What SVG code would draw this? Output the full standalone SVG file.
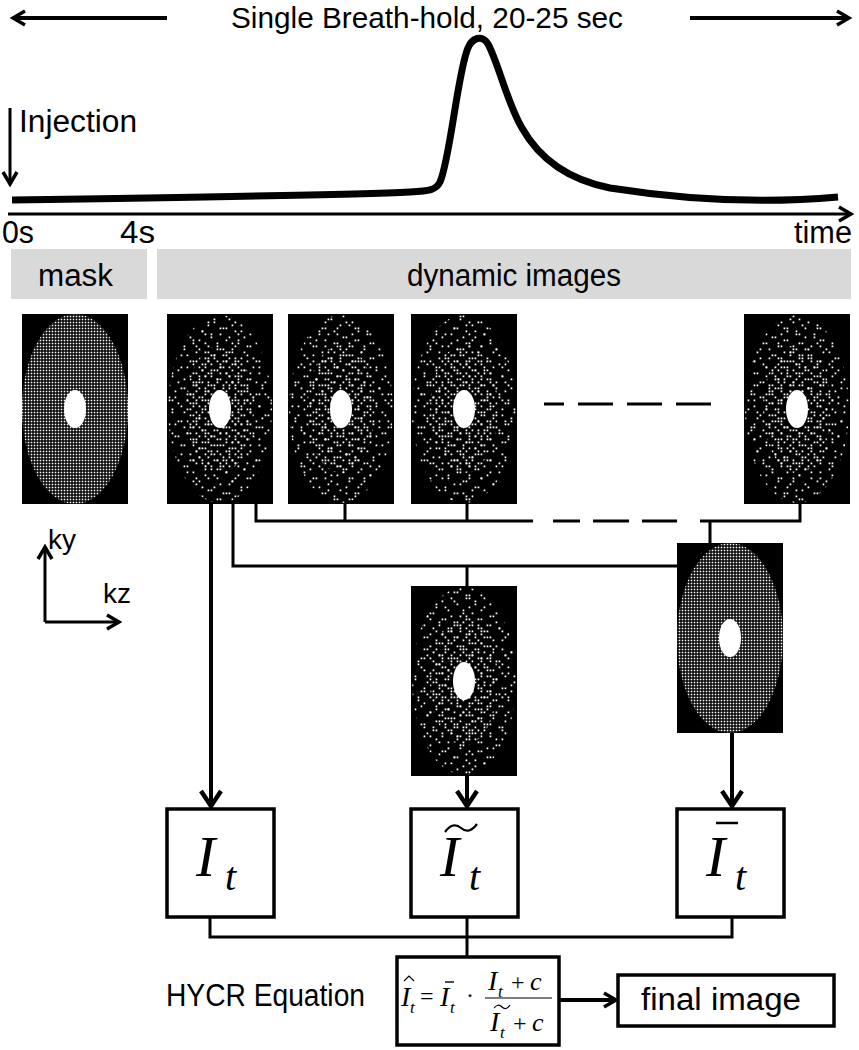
<svg xmlns="http://www.w3.org/2000/svg" width="859" height="1050" viewBox="0 0 859 1050">
<style>
.t{font-family:"Liberation Sans",Arial,sans-serif;fill:#000}
.m{font-family:"Liberation Serif","Times New Roman",serif;font-style:italic;fill:#000}
.r{font-family:"Liberation Serif","Times New Roman",serif;fill:#000}
.ln{stroke:#000;stroke-width:3;fill:none}
.th{stroke:#000;stroke-width:4;fill:none}
.box{fill:#fff;stroke:#000;stroke-width:3.5}
.kb{fill:#000}
.hole{fill:#fff}
.gray{fill:#d9d9d9}
</style>
<defs>
<marker id="ah" markerUnits="userSpaceOnUse" viewBox="0 0 20 20" markerWidth="20" markerHeight="20" refX="16" refY="10" orient="auto">
<path d="M5 3L17 10L5 17" fill="none" stroke="#000" stroke-width="3.5"/>
</marker>
<marker id="ahb" markerUnits="userSpaceOnUse" viewBox="0 0 26 26" markerWidth="26" markerHeight="26" refX="21" refY="13" orient="auto">
<path d="M7 3L22 13L7 23" fill="none" stroke="#000" stroke-width="4.5"/>
</marker>
<pattern id="gp" patternUnits="userSpaceOnUse" width="3" height="3">
<rect x="0.7" y="0.7" width="1.6" height="1.6" fill="#fff"/>
</pattern>
<pattern id="spa" patternUnits="userSpaceOnUse" width="33" height="33">
<path fill="#fff" d="M3.6 0.6h1.7v1.7h-1.7zM21.6 3.6h1.7v1.7h-1.7zM12.6 6.6h1.7v1.7h-1.7zM27.6 9.6h1.7v1.7h-1.7zM6.6 12.6h1.7v1.7h-1.7zM18.6 15.6h1.7v1.7h-1.7zM0.6 18.6h1.7v1.7h-1.7zM30.6 21.6h1.7v1.7h-1.7zM15.6 24.6h1.7v1.7h-1.7zM9.6 27.6h1.7v1.7h-1.7zM24.6 30.6h1.7v1.7h-1.7zM27.6 30.6h1.7v1.7h-1.7zM6.6 3.6h1.7v1.7h-1.7z"/>
</pattern>
<pattern id="spb" patternUnits="userSpaceOnUse" width="39" height="39">
<path fill="#fff" d="M9.6 0.6h1.7v1.7h-1.7zM30.6 3.6h1.7v1.7h-1.7zM18.6 6.6h1.7v1.7h-1.7zM0.6 9.6h1.7v1.7h-1.7zM36.6 12.6h1.7v1.7h-1.7zM24.6 15.6h1.7v1.7h-1.7zM6.6 18.6h1.7v1.7h-1.7zM15.6 21.6h1.7v1.7h-1.7zM33.6 24.6h1.7v1.7h-1.7zM3.6 27.6h1.7v1.7h-1.7zM21.6 30.6h1.7v1.7h-1.7zM12.6 33.6h1.7v1.7h-1.7zM27.6 36.6h1.7v1.7h-1.7zM36.6 30.6h1.7v1.7h-1.7zM0.6 33.6h1.7v1.7h-1.7zM12.6 9.6h1.7v1.7h-1.7z"/>
</pattern>
<pattern id="sp1" patternUnits="userSpaceOnUse" width="30" height="30">
<path fill="#fff" d="M0.6 0.6h1.7v1.7h-1.7zM9.6 0.6h1.7v1.7h-1.7zM21.6 0.6h1.7v1.7h-1.7zM15.6 3.6h1.7v1.7h-1.7zM18.6 3.6h1.7v1.7h-1.7zM3.6 6.6h1.7v1.7h-1.7zM6.6 6.6h1.7v1.7h-1.7zM24.6 6.6h1.7v1.7h-1.7zM12.6 9.6h1.7v1.7h-1.7zM27.6 9.6h1.7v1.7h-1.7zM0.6 12.6h1.7v1.7h-1.7zM18.6 12.6h1.7v1.7h-1.7zM21.6 12.6h1.7v1.7h-1.7zM6.6 15.6h1.7v1.7h-1.7zM9.6 15.6h1.7v1.7h-1.7zM15.6 18.6h1.7v1.7h-1.7zM24.6 18.6h1.7v1.7h-1.7zM27.6 18.6h1.7v1.7h-1.7zM3.6 21.6h1.7v1.7h-1.7zM12.6 21.6h1.7v1.7h-1.7zM9.6 24.6h1.7v1.7h-1.7zM18.6 24.6h1.7v1.7h-1.7zM21.6 24.6h1.7v1.7h-1.7zM0.6 27.6h1.7v1.7h-1.7zM27.6 27.6h1.7v1.7h-1.7z"/>
</pattern>
<pattern id="sp2" patternUnits="userSpaceOnUse" width="30" height="30">
<path fill="#fff" d="M6.6 0.6h1.7v1.7h-1.7zM15.6 0.6h1.7v1.7h-1.7zM27.6 0.6h1.7v1.7h-1.7zM0.6 3.6h1.7v1.7h-1.7zM9.6 3.6h1.7v1.7h-1.7zM24.6 3.6h1.7v1.7h-1.7zM12.6 6.6h1.7v1.7h-1.7zM18.6 6.6h1.7v1.7h-1.7zM3.6 9.6h1.7v1.7h-1.7zM6.6 9.6h1.7v1.7h-1.7zM21.6 9.6h1.7v1.7h-1.7zM9.6 12.6h1.7v1.7h-1.7zM15.6 12.6h1.7v1.7h-1.7zM27.6 12.6h1.7v1.7h-1.7zM0.6 15.6h1.7v1.7h-1.7zM18.6 15.6h1.7v1.7h-1.7zM24.6 15.6h1.7v1.7h-1.7zM6.6 18.6h1.7v1.7h-1.7zM9.6 18.6h1.7v1.7h-1.7zM15.6 21.6h1.7v1.7h-1.7zM21.6 21.6h1.7v1.7h-1.7zM27.6 21.6h1.7v1.7h-1.7zM0.6 24.6h1.7v1.7h-1.7zM3.6 24.6h1.7v1.7h-1.7zM12.6 24.6h1.7v1.7h-1.7zM18.6 27.6h1.7v1.7h-1.7zM24.6 27.6h1.7v1.7h-1.7z"/>
</pattern>
</defs>
<rect width="859" height="1050" fill="#fff"/>

<!-- timeline header -->
<g id="header">
<text class="t" x="231" y="28" font-size="30" textLength="392" lengthAdjust="spacingAndGlyphs">Single Breath-hold, 20-25 sec</text>
<text class="t" x="19" y="132" font-size="31" textLength="118" lengthAdjust="spacingAndGlyphs">Injection</text>
<text class="t" x="2" y="243" font-size="31" textLength="32" lengthAdjust="spacingAndGlyphs">0s</text>
<text class="t" x="120" y="243" font-size="31" textLength="35" lengthAdjust="spacingAndGlyphs">4s</text>
<text class="t" x="794" y="243" font-size="31" textLength="58" lengthAdjust="spacingAndGlyphs">time</text>
</g>

<g id="curve">
<path d="M12 200C150 198 350 195 410 192C430 191 436 190 440 182C450 160 458 70 468 48C472 38 482 34 488 44C498 62 508 105 522 128C540 160 570 180 610 188C680 199 760 204 838 197" fill="none" stroke="#000" stroke-width="7" stroke-linejoin="round"/>
</g>

<g id="phase-mask">
<rect class="gray" x="11" y="249" width="136" height="50"/>
<text class="t" x="38" y="286" font-size="31" textLength="75" lengthAdjust="spacingAndGlyphs">mask</text>
</g>
<g id="phase-dynamic">
<rect class="gray" x="157" y="249" width="694" height="50"/>
<text class="t" x="407" y="286" font-size="31" textLength="214" lengthAdjust="spacingAndGlyphs">dynamic images</text>
</g>

<!-- k-space images -->
<g id="img-mask">
<rect class="kb" x="22" y="314" width="106" height="190"/>
<ellipse cx="75" cy="409" rx="53" ry="95" fill="url(#gp)"/>
<ellipse class="hole" cx="75" cy="409" rx="11" ry="19"/>
</g>
<g id="img-d1">
<rect class="kb" x="167" y="314" width="106" height="190"/>
<ellipse cx="220" cy="409" rx="52" ry="94" fill="url(#spa)"/>
<ellipse cx="220" cy="409" rx="52" ry="94" fill="url(#spb)"/>
<ellipse cx="220" cy="409" rx="34" ry="64" fill="url(#sp2)"/>
<ellipse class="hole" cx="220" cy="409" rx="11" ry="19"/>
</g>
<g id="img-d2">
<rect class="kb" x="288" y="314" width="106" height="190"/>
<ellipse cx="341" cy="409" rx="52" ry="94" fill="url(#spa)"/>
<ellipse cx="341" cy="409" rx="52" ry="94" fill="url(#spb)"/>
<ellipse cx="341" cy="409" rx="34" ry="64" fill="url(#sp1)"/>
<ellipse class="hole" cx="341" cy="409" rx="11" ry="19"/>
</g>
<g id="img-d3">
<rect class="kb" x="411" y="314" width="106" height="190"/>
<ellipse cx="464" cy="409" rx="52" ry="94" fill="url(#spa)"/>
<ellipse cx="464" cy="409" rx="52" ry="94" fill="url(#spb)"/>
<ellipse cx="464" cy="409" rx="34" ry="64" fill="url(#sp2)"/>
<ellipse class="hole" cx="464" cy="409" rx="11" ry="19"/>
</g>
<g id="img-d4">
<rect class="kb" x="744" y="314" width="106" height="190"/>
<ellipse cx="797" cy="409" rx="52" ry="94" fill="url(#spa)"/>
<ellipse cx="797" cy="409" rx="52" ry="94" fill="url(#spb)"/>
<ellipse cx="797" cy="409" rx="34" ry="64" fill="url(#sp1)"/>
<ellipse class="hole" cx="797" cy="409" rx="11" ry="19"/>
</g>
<g id="img-sparse-sum">
<rect class="kb" x="411" y="586" width="106" height="190"/>
<ellipse cx="464" cy="681" rx="52" ry="94" fill="url(#spa)"/>
<ellipse cx="464" cy="681" rx="52" ry="94" fill="url(#spb)"/>
<ellipse cx="464" cy="681" rx="34" ry="64" fill="url(#sp1)"/>
<ellipse class="hole" cx="464" cy="681" rx="11" ry="19"/>
</g>
<g id="img-average">
<rect class="kb" x="677" y="543" width="106" height="190"/>
<ellipse cx="730" cy="638" rx="53" ry="95" fill="url(#gp)"/>
<ellipse class="hole" cx="730" cy="638" rx="11" ry="19"/>
</g>

<g id="axes">
<text class="t" x="48" y="549" font-size="28">ky</text>
<text class="t" x="103" y="603" font-size="28">kz</text>
</g>

<!-- boxes -->
<g id="box-It">
<rect class="box" x="167" y="809" width="107" height="108"/>
<text class="m" x="196" y="876" font-size="58">I</text>
<text class="m" x="225" y="890" font-size="40">t</text>
</g>
<g id="box-Itilde">
<rect class="box" x="411" y="809" width="107" height="108"/>
<text class="m" x="440" y="876" font-size="58">I</text>
<text class="m" x="469" y="890" font-size="40">t</text>
<path d="M445 832Q453 821 461 828T477 824" fill="none" stroke="#000" stroke-width="2.2"/>
</g>
<g id="box-Ibar">
<rect class="box" x="677" y="809" width="107" height="108"/>
<text class="m" x="706" y="876" font-size="58">I</text>
<text class="m" x="735" y="890" font-size="40">t</text>
<path d="M716 823H738" stroke="#000" stroke-width="2.5"/>
</g>

<g id="label-hycr">
<text class="t" x="166" y="1006" font-size="31" textLength="199" lengthAdjust="spacingAndGlyphs">HYCR Equation</text>
</g>
<g id="box-equation">
<rect class="box" x="397" y="957" width="162" height="88"/>
<text class="m" x="401" y="1006" font-size="28">I</text>
<path d="M404 981L409 976L414 981" fill="none" stroke="#000" stroke-width="1.2"/>
<text class="m" x="410" y="1013" font-size="17">t</text>
<text class="r" x="420" y="1004" font-size="24">=</text>
<text class="m" x="440" y="1006" font-size="28">I</text>
<path d="M445 982H454" stroke="#000" stroke-width="1.4"/>
<text class="m" x="450" y="1013" font-size="17">t</text>
<text class="r" x="466" y="1003" font-size="24">·</text>
<text class="m" x="488" y="990" font-size="28">I</text>
<text class="m" x="498" y="997" font-size="17">t</text>
<text class="r" x="511" y="990" font-size="24">+</text>
<text class="m" x="530" y="990" font-size="26">c</text>
<path d="M485 998H552" stroke="#000" stroke-width="1.2"/>
<text class="m" x="490" y="1031" font-size="28">I</text>
<path d="M494 1008Q498 1003 502 1007T510 1005" fill="none" stroke="#000" stroke-width="1.2"/>
<text class="m" x="500" y="1038" font-size="17">t</text>
<text class="r" x="513" y="1031" font-size="24">+</text>
<text class="m" x="532" y="1031" font-size="26">c</text>
</g>
<g id="box-final">
<rect class="box" x="618" y="975" width="216" height="51"/>
<text class="t" x="641" y="1010" font-size="31" textLength="160" lengthAdjust="spacingAndGlyphs">final image</text>
</g>

<!-- connectors -->
<g id="connectors">
<path class="th" d="M167 18H14" stroke-width="4.5" marker-end="url(#ah)"/>
<path class="th" d="M690 18H848" stroke-width="4.5" marker-end="url(#ah)"/>
<path class="ln" d="M10 108V183" marker-end="url(#ah)"/>
<path class="ln" d="M8 214H850" stroke-width="3.5" marker-end="url(#ah)"/>
<path class="ln" d="M45 622V548" stroke-width="3.5" marker-end="url(#ah)"/>
<path class="ln" d="M45 622H118" stroke-width="3.5" marker-end="url(#ah)"/>
<path class="ln" d="M256 504V521H533M345 504V521M467 504V521"/>
<path class="ln" stroke-width="4" d="M553 521H580M593 521H629M642 521H677"/>
<path class="ln" d="M700 521H800V504M710 521V543"/>
<path class="ln" d="M233 504V566H677M467 566V586"/>
<path class="ln" stroke-width="5" d="M544 404H564M578 404H613M627 404H662M676 404H711"/>
<path class="th" d="M211 504V805" marker-end="url(#ahb)"/>
<path class="th" d="M467 776V805" marker-end="url(#ahb)"/>
<path class="th" d="M732 733V805" marker-end="url(#ahb)"/>
<path class="ln" d="M210 917V937H732V917M467 917V957"/>
<path class="th" d="M559 1000H615" marker-end="url(#ah)"/>
</g>
</svg>
